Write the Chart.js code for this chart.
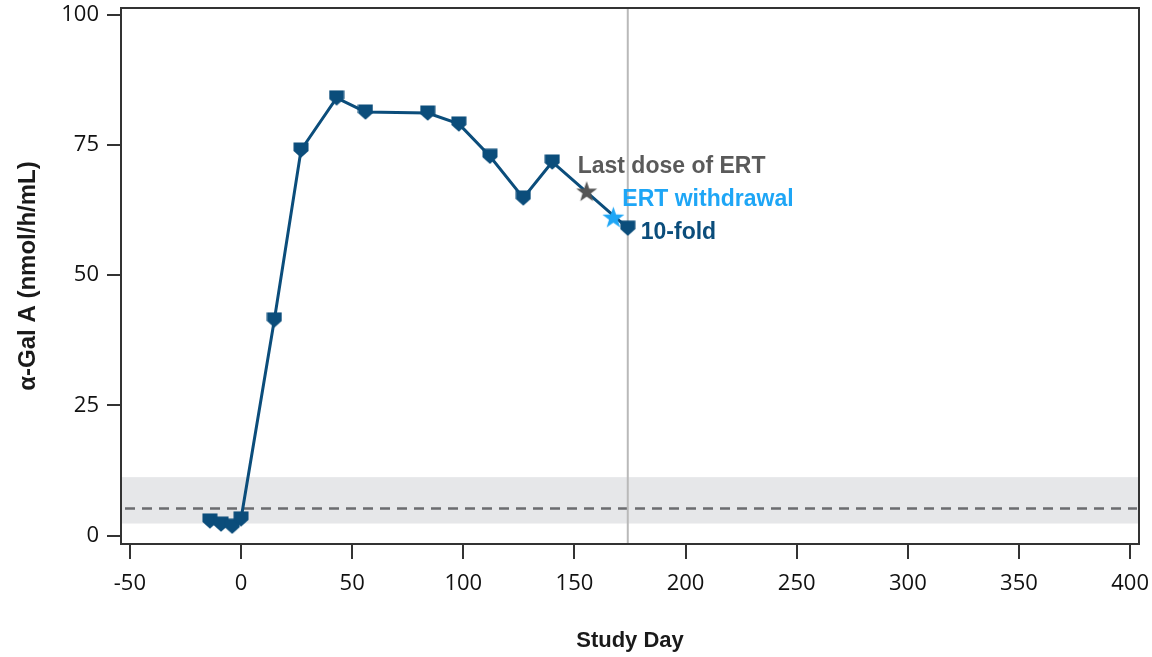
<!DOCTYPE html>
<html>
<head>
<meta charset="utf-8">
<script src="https://cdn.jsdelivr.net/npm/chart.js@4/dist/chart.umd.min.js"></script>
<style>
  html, body { margin: 0; padding: 0; background: #ffffff; }
  canvas { display: block; }
</style>
</head>
<body>
<canvas id="chart" width="1152" height="657"></canvas>
<script>
// α-Gal A activity by study day
const studyDay = [-14, -9, -4, 0, 15, 27, 43, 56, 84, 98, 112, 127, 140, 174];
const galA     = [2.8, 2.2, 1.8, 3.2, 41.4, 74.0, 84.0, 81.3, 81.1, 79.0, 72.8, 64.8, 71.7, 59.0];

// Event markers on the curve
const lastDoseDay = [155.5];
const lastDoseVal = [66.1];
const withdrawalDay = [167.5];
const withdrawalVal = [61.1];

// Reference range (shaded band) and its mean (dashed line)
const refRange = [2.3, 11.2];
const refMean = [5.2];

// Day of the final sample (vertical guide)
const finalDay = [174];

// Axis ticks
const xTicks = [-50, 0, 50, 100, 150, 200, 250, 300, 350, 400];
const yTicks = [0, 25, 50, 75, 100];

const NAVY = '#0b4d7b';
const GREY_STAR = '#555555';
const BLUE_STAR = '#1ea6f6';
const TICK_FONT = "'Open Sans', 'Noto Sans', sans-serif";
const BOLD_FONT = "'Liberation Sans', Arial, sans-serif";

// Shield-shaped marker: square top with a pointed base
function makeShield(color) {
  const c = document.createElement('canvas');
  c.width = 16; c.height = 16;
  const g = c.getContext('2d');
  g.fillStyle = color;
  g.beginPath();
  g.moveTo(0.5, 0.5);
  g.lineTo(15.5, 0.5);
  g.lineTo(15.5, 9);
  g.lineTo(8, 15.8);
  g.lineTo(0.5, 9);
  g.closePath();
  g.fill();
  return c;
}

// Filled five-point star
function makeStar(color, outer, inner) {
  const size = Math.ceil(outer * 2 + 2);
  const c = document.createElement('canvas');
  c.width = size; c.height = size;
  const g = c.getContext('2d');
  const cx = size / 2, cy = size / 2 + 1;
  g.fillStyle = color;
  g.beginPath();
  for (let i = 0; i < 10; i++) {
    const r = i % 2 === 0 ? outer : inner;
    const a = -Math.PI / 2 + i * Math.PI / 5;
    const px = cx + r * Math.cos(a), py = cy + r * Math.sin(a);
    if (i === 0) g.moveTo(px, py); else g.lineTo(px, py);
  }
  g.closePath();
  g.fill();
  return c;
}

const shield = makeShield(NAVY);
const greyStar = makeStar(GREY_STAR, 11, 4.4);
const blueStar = makeStar(BLUE_STAR, 11.5, 4.6);

const toPoints = (xs, ys) => xs.map((x, i) => ({ x: x, y: ys[i] }));

const decorations = {
  id: 'decorations',
  beforeDatasetsDraw(chart) {
    const { ctx, chartArea: a, scales: { x, y } } = chart;
    ctx.save();
    // reference band
    const yTop = y.getPixelForValue(refRange[1]);
    const yBot = y.getPixelForValue(refRange[0]);
    ctx.fillStyle = '#e6e7e9';
    ctx.fillRect(a.left, yTop, a.right - a.left, yBot - yTop);
    // mean line
    const ym = y.getPixelForValue(refMean[0]);
    ctx.strokeStyle = '#6b6c6f';
    ctx.lineWidth = 2.5;
    ctx.setLineDash([10, 7]);
    ctx.beginPath();
    ctx.moveTo(a.left + 4, ym);
    ctx.lineTo(a.right - 2, ym);
    ctx.stroke();
    ctx.setLineDash([]);
    // final-sample guide
    const xv = x.getPixelForValue(finalDay[0]);
    ctx.strokeStyle = '#b9b9b9';
    ctx.lineWidth = 2;
    ctx.beginPath();
    ctx.moveTo(xv, a.top);
    ctx.lineTo(xv, a.bottom);
    ctx.stroke();
    ctx.restore();
  },
  afterDraw(chart) {
    const { ctx, chartArea: a, scales: { x, y } } = chart;
    ctx.save();
    // frame
    ctx.strokeStyle = '#333333';
    ctx.lineWidth = 2;
    ctx.strokeRect(a.left, a.top, a.right - a.left, a.bottom - a.top);
    // annotations
    ctx.font = 'bold 23px ' + BOLD_FONT;
    ctx.textBaseline = 'alphabetic';
    ctx.textAlign = 'left';
    let px = x.getPixelForValue(lastDoseDay[0]);
    let py = y.getPixelForValue(lastDoseVal[0]);
    ctx.fillStyle = '#5a5a5a';
    ctx.fillText('Last dose of ERT', px - 9, py - 18);
    px = x.getPixelForValue(withdrawalDay[0]);
    py = y.getPixelForValue(withdrawalVal[0]);
    ctx.fillStyle = BLUE_STAR;
    ctx.fillText('ERT withdrawal', px + 9, py - 11);
    const n = studyDay.length - 1;
    px = x.getPixelForValue(studyDay[n]);
    py = y.getPixelForValue(galA[n]);
    ctx.fillStyle = NAVY;
    ctx.fillText('10-fold', px + 13, py + 11);
    ctx.restore();
  }
};

new Chart(document.getElementById('chart'), {
  type: 'scatter',
  data: {
    datasets: [
      {
        label: 'Last dose of ERT',
        data: toPoints(lastDoseDay, lastDoseVal),
        pointStyle: greyStar,
        order: 0
      },
      {
        label: 'ERT withdrawal',
        data: toPoints(withdrawalDay, withdrawalVal),
        pointStyle: blueStar,
        order: 0
      },
      {
        label: 'α-Gal A',
        data: toPoints(studyDay, galA),
        showLine: true,
        borderColor: NAVY,
        borderWidth: 3,
        pointStyle: shield,
        order: 1
      }
    ]
  },
  plugins: [decorations],
  options: {
    responsive: false,
    animation: false,
    devicePixelRatio: 1,
    layout: { padding: { top: 8, right: 13, left: 0, bottom: 0 } },
    plugins: {
      legend: { display: false },
      tooltip: { enabled: false }
    },
    scales: {
      x: {
        type: 'linear',
        min: -54,
        max: 404,
        afterBuildTicks: (s) => { s.ticks = xTicks.map(v => ({ value: v })); },
        afterFit: (s) => { s.height = 113; s.paddingLeft = 0; s.paddingRight = 0; },
        border: { display: false },
        grid: { drawOnChartArea: false, drawTicks: true, tickLength: 15, color: '#333333', lineWidth: 2 },
        ticks: {
          autoSkip: false,
          maxRotation: 0,
          padding: 12,
          color: '#111111',
          font: { family: TICK_FONT, size: 22 },
          callback: (v) => String(v)
        },
        title: {
          display: true,
          text: 'Study Day',
          color: '#1a1a1a',
          font: { family: BOLD_FONT, size: 22, weight: 'bold' },
          padding: { top: 0, bottom: 3 }
        }
      },
      y: {
        type: 'linear',
        min: -1.63,
        max: 101.25,
        afterBuildTicks: (s) => { s.ticks = yTicks.map(v => ({ value: v })); },
        afterFit: (s) => { s.width = 121; s.paddingTop = 0; s.paddingBottom = 0; },
        border: { display: false },
        grid: { drawOnChartArea: false, drawTicks: true, tickLength: 14, color: '#333333', lineWidth: 2 },
        ticks: {
          autoSkip: false,
          padding: 8,
          color: '#111111',
          font: { family: TICK_FONT, size: 22 },
          callback: (v) => String(v)
        },
        title: {
          display: true,
          text: 'α-Gal A (nmol/h/mL)',
          color: '#1a1a1a',
          font: { family: BOLD_FONT, size: 24, weight: 'bold' },
          padding: { top: 14, bottom: 0 }
        }
      }
    }
  }
});
</script>
</body>
</html>
